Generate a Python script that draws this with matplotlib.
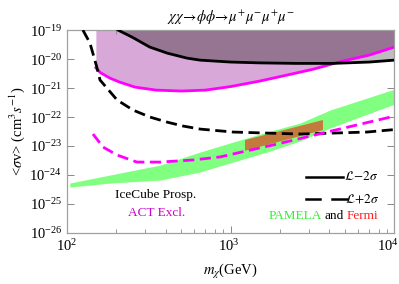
import numpy as np
import matplotlib
matplotlib.use("Agg")
import matplotlib.pyplot as plt
import matplotlib.transforms as mtransforms
from matplotlib.ticker import LogLocator, NullLocator, NullFormatter

plt.rcParams['font.family'] = ['Liberation Serif', 'DejaVu Serif']
plt.rcParams['mathtext.fontset'] = 'stix'

# IceCube prospective, L-2sigma (solid black)
ice_lo_m = [205, 250, 320, 410, 540, 650, 1000, 1500, 2500, 4200, 7000, 10000]
ice_lo_s = [1.0e-19, 5.7e-20, 2.6e-20, 1.6e-20, 1.08e-20, 9.2e-21, 7.9e-21, 7.4e-21, 7.1e-21, 7.1e-21, 7.9e-21, 9.2e-21]
# IceCube prospective, L+2sigma (dashed black)
ice_hi_m = [125, 138, 152, 159, 202, 253, 321, 408, 511, 649, 1032, 1664, 2646, 4210, 6790, 10000]
ice_hi_s = [1.0e-19, 3.6e-20, 5.3e-21, 1.9e-21, 3.9e-22, 1.74e-22, 1.0e-22, 6.7e-23, 4.9e-23, 3.85e-23,
            3.04e-23, 2.8e-23, 2.6e-23, 2.8e-23, 3.04e-23, 3.7e-23]
# ACT exclusion, L-2sigma (solid magenta)
act_lo_m = [150, 160, 183, 210, 260, 350, 500, 700, 1000, 1500, 2200, 3200, 4800, 7000, 10000]
act_lo_s = [5.0e-21, 3.4e-21, 2.2e-21, 1.6e-21, 1.08e-21, 8.5e-22, 7.9e-22, 8.5e-22, 1.13e-21, 1.74e-21,
            2.8e-21, 4.5e-21, 8.5e-21, 1.37e-20, 2.6e-20]
# ACT, L+2sigma (dashed magenta)
act_hi_m = [144, 166, 202, 267, 370, 587, 859, 1406, 1915, 4210, 10000]
act_hi_s = [2.6e-23, 9.2e-24, 4.9e-24, 2.8e-24, 2.8e-24, 3.3e-24, 4.2e-24, 7.9e-24, 1.17e-23, 3.4e-23, 1.08e-22]
# PAMELA band
pam_m = [104, 183, 370, 649, 1032, 1664, 2646, 4037, 10000]
pam_up = [5.3e-25, 1.0e-24, 2.2e-24, 6.2e-24, 1.37e-23, 3.04e-23, 6.2e-23, 1.74e-22, 9.2e-22]
pam_dn = [3.85e-25, 5.3e-25, 6.7e-25, 1.27e-24, 2.8e-24, 6.2e-24, 1.49e-23, 4.2e-23, 2.8e-22]
# Fermi region (parallelogram corners)
fermi_m = [1222, 3656, 3656, 1222]
fermi_s = [1.61e-23, 7.9e-23, 3.56e-23, 6.9e-24]

xticks = [1e2, 1e3, 1e4]
yticks = [1e-26, 1e-25, 1e-24, 1e-23, 1e-22, 1e-21, 1e-20, 1e-19]

TOP = 1e-19
fig = plt.figure(figsize=(3.99, 2.84), dpi=100)
ax = fig.add_axes([0.168, 0.1796, 0.8207, 0.7144])
ax.set_xscale('log')
ax.set_yscale('log')
ax.set_xlim(1e2, 1e4)
ax.set_ylim(1e-26, 1e-19)

# regions
grid = np.logspace(np.log10(150), 4, 500)
lg = np.log10(grid)
ice_i = 10 ** np.interp(lg, np.log10(ice_lo_m), np.log10(ice_lo_s), left=np.log10(TOP))
act_i = 10 ** np.interp(lg, np.log10(act_lo_m), np.log10(act_lo_s))
ax.fill_between(grid, act_i, TOP, color='#d8a8d8', lw=0, zorder=1)
ax.fill_between(ice_lo_m, ice_lo_s, TOP, color='#bdbdbd', lw=0, zorder=1)
both = np.maximum(ice_i, act_i)
ax.fill_between(grid, both, TOP, where=grid >= ice_lo_m[0], color='#957592', lw=0, zorder=2)

ax.fill_between(pam_m, pam_dn, pam_up, color='#80ff80', lw=0, zorder=2)
ax.fill(fermi_m, fermi_s, color='#c47a3c', lw=0, zorder=3)

ax.plot(ice_lo_m, ice_lo_s, color='black', lw=2.0, zorder=5)
ax.plot(act_lo_m, act_lo_s, color='#ff00ff', lw=2.0, zorder=4)
ax.plot(ice_hi_m, ice_hi_s, color='black', lw=2.0, dashes=(4, 2), zorder=5)
ax.plot(act_hi_m, act_hi_s, color='#ff00ff', lw=2.0, dashes=(4, 2), zorder=5)

ax.set_xticks(xticks)
ax.set_yticks(yticks)
ax.xaxis.set_minor_locator(LogLocator(base=10, subs=np.arange(2, 10)))
ax.xaxis.set_minor_formatter(NullFormatter())
ax.yaxis.set_minor_locator(NullLocator())
ax.tick_params(which='both', direction='in', top=True, right=True, color='#888888', labelsize=10.5)
ax.tick_params(which='major', length=5, width=0.7)
ax.tick_params(which='minor', length=3, width=0.6)
for sp in ax.spines.values():
    sp.set_color('#a0a0a0')
    sp.set_linewidth(0.9)

# shift last x tick label left so it stays inside the figure
lbls = ax.get_xticklabels()
lbls[-1].set_transform(lbls[-1].get_transform() + mtransforms.ScaledTranslation(-7 / 100, 0, fig.dpi_scale_trans))
lbls[1].set_transform(lbls[1].get_transform() + mtransforms.ScaledTranslation(-2 / 100, 0, fig.dpi_scale_trans))

ax.set_title(r'$\chi\chi\!\rightarrow\!\phi\phi\!\rightarrow\!\mu^{+}\mu^{-}\mu^{+}\mu^{-}$', fontsize=10.5, pad=6)
ax.set_xlabel(r'$m_{\chi}$(GeV)', fontsize=10.5, labelpad=6)
ax.set_ylabel(r'<$\sigma$v> (cm$^{3}$$s^{-1}$)', fontsize=10.5, labelpad=2)

ax.text(0.27, 0.185, 'IceCube Prosp.', transform=ax.transAxes, fontsize=9.5, ha='center', va='center', color='black')
ax.text(0.275, 0.098, 'ACT Excl.', transform=ax.transAxes, fontsize=9.5, ha='center', va='center', color='#cc00cc')

# legend
ax.plot([0.730, 0.843], [0.276, 0.276], transform=ax.transAxes, color='black', lw=1.8)
ax.text(0.846, 0.276, r'$\mathcal{L}\!-\!2\sigma$', transform=ax.transAxes, fontsize=9.5, va='center')
ax.plot([0.730, 0.773], [0.167, 0.167], transform=ax.transAxes, color='black', lw=1.8)
ax.plot([0.809, 0.855], [0.167, 0.167], transform=ax.transAxes, color='black', lw=1.8)
ax.text(0.850, 0.167, r'$\mathcal{L}\!+\!2\sigma$', transform=ax.transAxes, fontsize=9.5, va='center')

t1 = ax.text(0.615, 0.084, 'PAMELA', transform=ax.transAxes, fontsize=9.5, va='center', color='#33ee33')
fig.canvas.draw()
r = fig.canvas.get_renderer()
bb = t1.get_window_extent(r)
inv = ax.transAxes.inverted()
x1 = inv.transform((bb.x1, bb.y0))[0]
t2 = ax.text(x1 + 0.008, 0.084, 'and', transform=ax.transAxes, fontsize=9.5, va='center', color='black')
bb2 = t2.get_window_extent(r)
x2 = inv.transform((bb2.x1, bb2.y0))[0]
ax.text(x2 + 0.008, 0.084, 'Fermi', transform=ax.transAxes, fontsize=9.5, va='center', color='#ff2020')

fig.savefig('out.png', dpi=100)
